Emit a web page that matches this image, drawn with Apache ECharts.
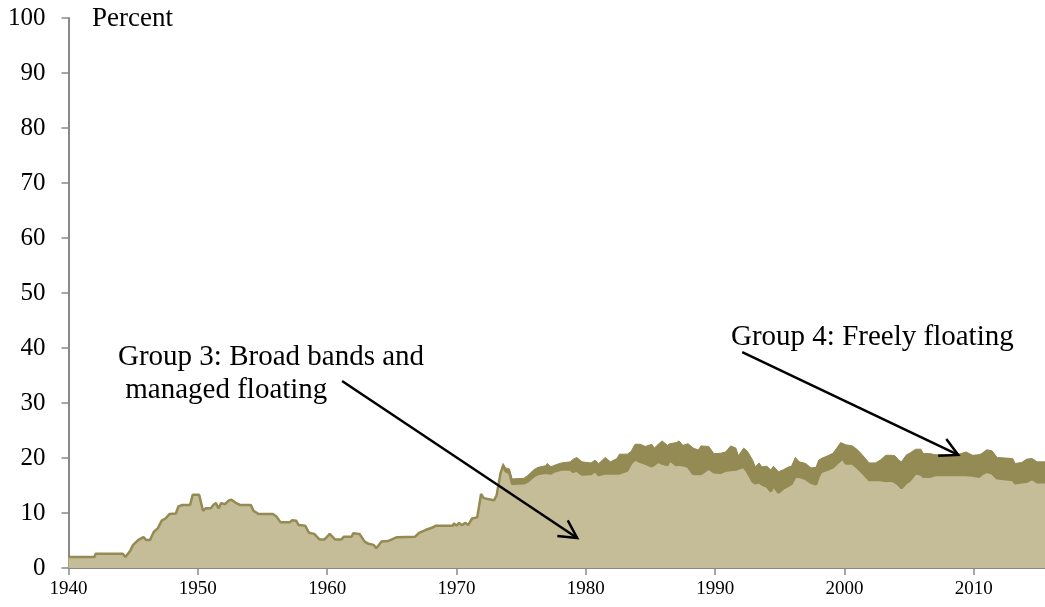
<!DOCTYPE html>
<html>
<head>
<meta charset="utf-8">
<script src="https://cdn.jsdelivr.net/npm/echarts@6/dist/echarts.min.js"></script>
<style>
html,body{margin:0;padding:0;background:#fff;}
#chart{width:1045px;height:607px;}
</style>
</head>
<body>
<div id="chart"></div>
<script>
// Year (decimal), share in Group 3 (broad bands / managed floating), share in Group 4 (freely floating)
const years = [
1940.0,1942.0,1942.1,1944.2,1944.4,1944.76,1945.0,1945.4,1945.8,1946.0,1946.3,1946.6,1946.9,1947.2,1947.5,1947.8,
1948.3,1948.5,1948.8,1949.4,1949.6,1950.1,1950.4,1950.6,1951.0,1951.2,1951.4,1951.6,1951.8,1952.1,1952.4,1952.6,
1952.9,1953.3,1954.1,1954.3,1954.7,1955.8,1956.1,1956.4,1957.1,1957.3,1957.6,1957.8,1958.3,1958.6,1959.0,1959.4,
1959.8,1960.2,1960.6,1961.1,1961.3,1961.9,1962.0,1962.5,1962.9,1963.2,1963.6,1963.8,1964.2,1964.7,1965.0,1965.4,
1966.8,1967.1,1967.6,1968.2,1968.4,1969.7,1969.8,1970.0,1970.2,1970.4,1970.7,1970.9,1971.2,1971.6,1971.9,1972.1,
1972.7,1972.9,1973.1,1973.4,
1973.6,1973.8,1974.1,1974.3,1975.2,1975.5,1976.0,1976.3,1976.9,1977.0,1977.3,1977.6,1978.1,1978.8,1979.0,1979.3,
1979.7,1980.4,1980.7,1981.0,1981.5,1981.9,1982.4,1982.6,1983.2,1983.5,1983.8,1984.2,1984.6,1985.1,1985.3,1985.6,
1985.9,1986.3,1986.5,1987.0,1987.2,1987.5,1987.9,1988.3,1988.7,1988.9,1989.5,1989.9,1990.4,1990.8,1991.2,1991.6,
1991.8,1992.2,1992.5,1992.9,1993.1,1993.4,1993.6,1994.0,1994.3,1994.5,1994.9,1995.3,1995.6,1995.9,1996.2,1996.5,
1997.0,1997.4,1997.8,1998.0,1998.2,1998.7,1999.1,1999.4,1999.7,1999.8,2000.1,2000.6,2001.0,2001.4,2001.9,2002.4,
2002.8,2003.2,2003.6,2003.9,2004.2,2004.4,2004.8,2005.0,2005.5,2005.9,2006.1,2006.6,2007.0,2008.6,2009.0,2009.4,
2009.9,2010.4,2010.6,2011.0,2011.4,2011.8,2013.0,2013.2,2013.7,2014.1,2014.5,2014.9,2015.5
];
const group3 = [
2.0,2.0,2.6,2.6,2.0,3.1,4.2,5.1,5.6,5.1,5.1,6.6,7.2,8.6,9.0,9.8,
9.9,11.2,11.45,11.45,13.3,13.3,10.4,10.85,10.85,11.45,11.8,10.85,11.8,11.6,12.3,12.4,
11.9,11.45,11.45,10.4,9.8,9.8,9.3,8.3,8.3,8.7,8.6,7.8,7.7,6.4,6.2,5.2,
5.2,6.2,5.2,5.2,5.7,5.7,6.3,6.2,4.8,4.4,4.2,3.6,4.8,4.9,5.2,5.6,
5.7,6.4,6.9,7.4,7.7,7.7,8.1,7.7,8.2,7.8,8.2,7.8,9.0,9.2,13.45,12.7,
12.4,12.3,13.2,17.2,
18.6,17.6,17.2,15.3,15.4,15.7,16.7,17.1,17.3,17.6,17.2,17.6,17.9,17.9,17.5,17.7,
17.0,17.1,17.6,16.9,17.2,17.2,17.2,17.2,17.7,19.0,19.75,19.3,19.0,18.5,18.8,19.3,
19.0,18.7,19.6,18.7,18.8,18.7,18.4,17.1,17.1,17.1,18.1,17.4,17.3,17.7,17.8,17.9,
18.1,18.4,17.4,15.7,15.4,15.6,15.2,14.8,13.9,14.9,13.7,14.5,14.9,15.3,16.6,16.6,
16.2,15.5,15.2,16.6,17.5,17.9,18.3,19.0,19.6,20.1,19.0,19.0,18.2,17.3,16.0,16.0,
16.0,15.8,15.9,15.6,15.1,14.5,15.5,15.8,17.2,17.0,16.6,16.6,16.9,16.9,16.9,16.9,
16.8,16.6,17.0,17.5,17.2,16.3,16.0,15.4,15.6,15.7,16.2,15.6,15.6
];
const group4 = [
0,0,0,0,0,0,0,0,0,0,0,0,0,0,0,0,
0,0,0,0,0,0,0,0,0,0,0,0,0,0,0,0,
0,0,0,0,0,0,0,0,0,0,0,0,0,0,0,0,
0,0,0,0,0,0,0,0,0,0,0,0,0,0,0,0,
0,0,0,0,0,0,0,0,0,0,0,0,0,0,0,0,
0,0,0,0,
0.4,0.6,0.8,0.9,0.9,1.1,1.2,1.2,1.3,1.4,1.2,1.1,1.2,1.4,2.25,2.4,
2.3,2.0,2.0,2.1,2.9,2.1,2.7,3.5,3.0,2.2,2.75,3.2,3.1,4.0,3.0,3.2,
4.1,3.6,3.0,4.1,4.3,3.6,4.2,4.7,4.35,5.1,4.0,3.4,3.55,3.4,4.4,3.9,
2.3,3.4,3.8,3.9,3.0,3.5,3.2,3.7,3.9,3.6,3.8,3.4,3.4,3.2,3.5,2.7,
2.8,2.7,3.1,3.0,2.4,2.5,2.55,2.8,3.2,2.5,3.4,3.2,3.3,3.2,3.1,3.1,
3.7,4.7,4.6,4.8,4.5,4.8,5.1,5.0,4.4,4.6,4.2,4.2,3.7,3.7,3.9,4.2,
3.7,4.0,3.8,4.0,4.1,3.8,3.9,3.6,3.6,4.1,3.7,3.7,3.7
];
const yTicks = [0,10,20,30,40,50,60,70,80,90,100];
const xTickYears = [1940,1950,1960,1970,1980,1990,2000,2010];

const annotations = [
  {text:'Group 3: Broad bands and', x:118, y:357},
  {text:' managed floating', x:118, y:390},
  {text:'Group 4: Freely floating', x:731, y:337}
];
// arrows in data coordinates: [startYear, startValue, endYear, endValue]
const arrows = [
  [1961.15, 34.0, 1979.33, 5.45],
  [1992.09, 39.27, 2008.79, 20.55]
];

const FONT = '"Liberation Serif", "Times New Roman", serif';
const LIGHT = '#C4BD97';
const DARK = '#948A54';

const totalSeries = years.map((y,i)=>[y, +(group3[i]+group4[i]).toFixed(2)]);
const g3Series = years.map((y,i)=>[y, group3[i]]);

const chart = echarts.init(document.getElementById('chart'), null, {renderer:'canvas'});
chart.setOption({
  animation:false,
  backgroundColor:'#fff',
  grid:{left:68.5, right:0, top:18, bottom:39, containLabel:false},
  xAxis:{
    type:'value', min:1940, max:2015.5, interval:10,
    axisLine:{show:true, lineStyle:{color:'#898989', width:2}},
    axisTick:{show:true, inside:false, length:7, lineStyle:{color:'#898989', width:1.5}},
    axisLabel:{show:true, showMaxLabel:false, margin:12, color:'#000', fontFamily:FONT, fontSize:19,
      formatter:function(v){return xTickYears.indexOf(v)>=0 ? String(v) : '';}},
    splitLine:{show:false}
  },
  yAxis:{
    type:'value', min:0, max:100, interval:10,
    axisLine:{show:true, lineStyle:{color:'#898989', width:2}},
    axisTick:{show:true, inside:false, length:7, lineStyle:{color:'#898989', width:1.5}},
    axisLabel:{show:true, margin:23, color:'#000', fontFamily:FONT, fontSize:25,
      formatter:function(v){return yTicks.indexOf(v)>=0 ? String(v) : '';}},
    splitLine:{show:false}
  },
  series:[
    {name:'Group 4: Freely floating', type:'line', data:totalSeries, symbol:'none',
      lineStyle:{color:DARK, width:1}, areaStyle:{color:DARK, opacity:1}, z:2},
    {name:'Group 3: Broad bands and managed floating', type:'line', data:g3Series, symbol:'none',
      lineStyle:{color:DARK, width:2.5}, areaStyle:{color:LIGHT, opacity:1}, z:3}
  ]
});

function buildGraphics(){
  const els = [];
  els.push({type:'text', x:92, y:19, style:{text:'Percent', font:'27px '+FONT, fill:'#000', verticalAlign:'middle', align:'left'}, z:10});
  annotations.forEach(a=>{
    els.push({type:'text', x:a.x, y:a.y, style:{text:a.text, font:'29px '+FONT, fill:'#000', verticalAlign:'middle', align:'left'}, z:10});
  });
  arrows.forEach(a=>{
    const p0 = chart.convertToPixel({gridIndex:0},[a[0],a[1]]);
    const p1 = chart.convertToPixel({gridIndex:0},[a[2],a[3]]);
    const back = Math.atan2(p0[1]-p1[1], p0[0]-p1[0]);
    const L = 20, da = 28*Math.PI/180;
    const q1 = [p1[0]+L*Math.cos(back+da), p1[1]+L*Math.sin(back+da)];
    const q2 = [p1[0]+L*Math.cos(back-da), p1[1]+L*Math.sin(back-da)];
    els.push({type:'line', shape:{x1:p0[0],y1:p0[1],x2:p1[0],y2:p1[1]}, style:{stroke:'#000', lineWidth:2.5}, z:10});
    els.push({type:'polyline', shape:{points:[q1,p1,q2]}, style:{stroke:'#000', lineWidth:2.5, fill:null, lineJoin:'miter'}, z:10});
  });
  return els;
}
chart.setOption({graphic:buildGraphics()});
</script>
</body>
</html>
